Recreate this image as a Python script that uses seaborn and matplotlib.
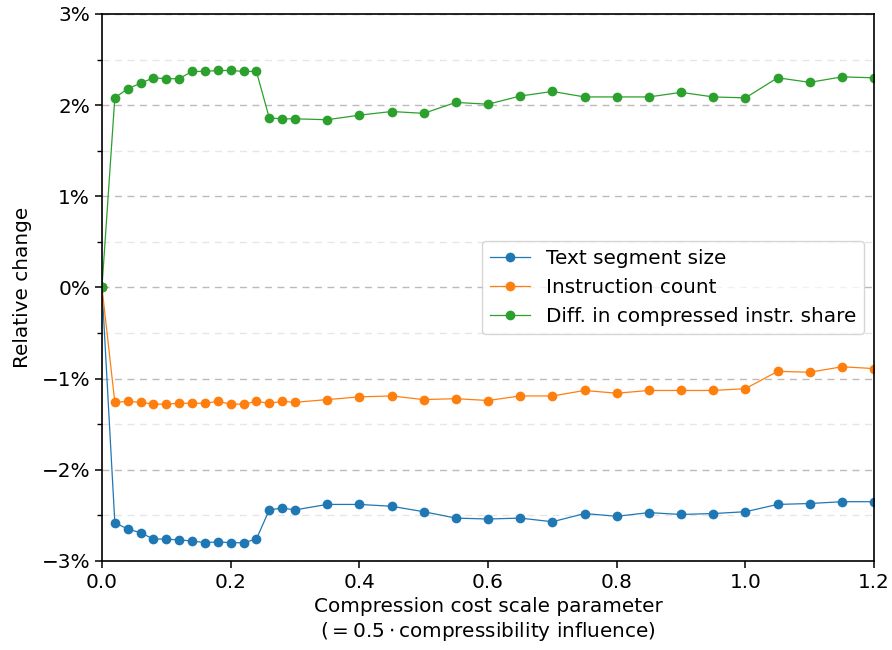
import pandas as pd
import matplotlib
matplotlib.use("Agg")
import matplotlib.pyplot as plt
import seaborn as sns
from matplotlib.ticker import MultipleLocator, FuncFormatter

# valores (em %)
scale = [0.00, 0.02, 0.04, 0.06, 0.08, 0.10, 0.12, 0.14, 0.16, 0.18, 0.20, 0.22,
         0.24, 0.26, 0.28, 0.30, 0.35, 0.40, 0.45, 0.50, 0.55, 0.60, 0.65, 0.70,
         0.75, 0.80, 0.85, 0.90, 0.95, 1.00, 1.05, 1.10, 1.15, 1.20]

text_size = [0.0, -2.58, -2.65, -2.69, -2.76, -2.76, -2.77, -2.78, -2.80, -2.79, -2.80, -2.80,
             -2.76, -2.44, -2.42, -2.44, -2.38, -2.38, -2.40, -2.46, -2.53, -2.54, -2.53, -2.57,
             -2.48, -2.51, -2.47, -2.49, -2.48, -2.46, -2.38, -2.37, -2.35, -2.35]

instr_count = [0.0, -1.26, -1.25, -1.26, -1.28, -1.28, -1.27, -1.27, -1.27, -1.25, -1.28, -1.28,
               -1.25, -1.27, -1.25, -1.26, -1.23, -1.20, -1.19, -1.23, -1.22, -1.24, -1.19, -1.19,
               -1.13, -1.16, -1.13, -1.13, -1.13, -1.11, -0.92, -0.93, -0.87, -0.89]

compressed_share = [0.0, 2.08, 2.18, 2.24, 2.30, 2.29, 2.29, 2.37, 2.37, 2.38, 2.38, 2.37,
                    2.37, 1.86, 1.85, 1.85, 1.84, 1.89, 1.93, 1.91, 2.03, 2.01, 2.10, 2.15,
                    2.09, 2.09, 2.09, 2.14, 2.09, 2.08, 2.30, 2.25, 2.31, 2.30]

labels = ["Text segment size", "Instruction count", "Diff. in compressed instr. share"]
colors = ["#1f77b4", "#ff7f0e", "#2ca02c"]

# formato longo para o seaborn
df = pd.concat([
    pd.DataFrame({"scale": scale, "change": vals, "metric": lab})
    for vals, lab in zip([text_size, instr_count, compressed_share], labels)
])

fs = 14.4
plt.rcParams["font.size"] = fs
fig, ax = plt.subplots(figsize=(8.92, 6.5), dpi=100)
fig.subplots_adjust(left=0.1143, right=0.98, top=0.9785, bottom=0.137)

sns.lineplot(data=df, x="scale", y="change", hue="metric", hue_order=labels,
             palette=colors, marker="o", markersize=7, markeredgewidth=0,
             linewidth=0.9, ax=ax)

ax.set_xlim(0, 1.2)
ax.set_ylim(-3, 3)
ax.yaxis.set_major_locator(MultipleLocator(1))
ax.yaxis.set_minor_locator(MultipleLocator(0.5))
ax.yaxis.set_major_formatter(FuncFormatter(lambda v, p: f"{v:.0f}%".replace("-", "\u2212")))
ax.grid(axis="y", which="major", linestyle=(0, (5, 4)), color="#bbbbbb", linewidth=1)
ax.grid(axis="y", which="minor", linestyle=(0, (5, 4)), color="#e6e6e6", linewidth=1)
ax.set_axisbelow(True)
for s in ax.spines.values():
    s.set_color("black")
    s.set_linewidth(1.2)

ax.set_xlabel("Compression cost scale parameter\n($=0.5\\cdot$compressibility influence)", fontsize=fs)
ax.set_ylabel("Relative change", fontsize=fs, labelpad=7)
ax.tick_params(labelsize=fs, length=5, width=1.1)
ax.tick_params(which="minor", length=3.5, width=1)

ax.legend(title=None, loc="center right", fontsize=fs)

fig.savefig("out.png", dpi=100)
